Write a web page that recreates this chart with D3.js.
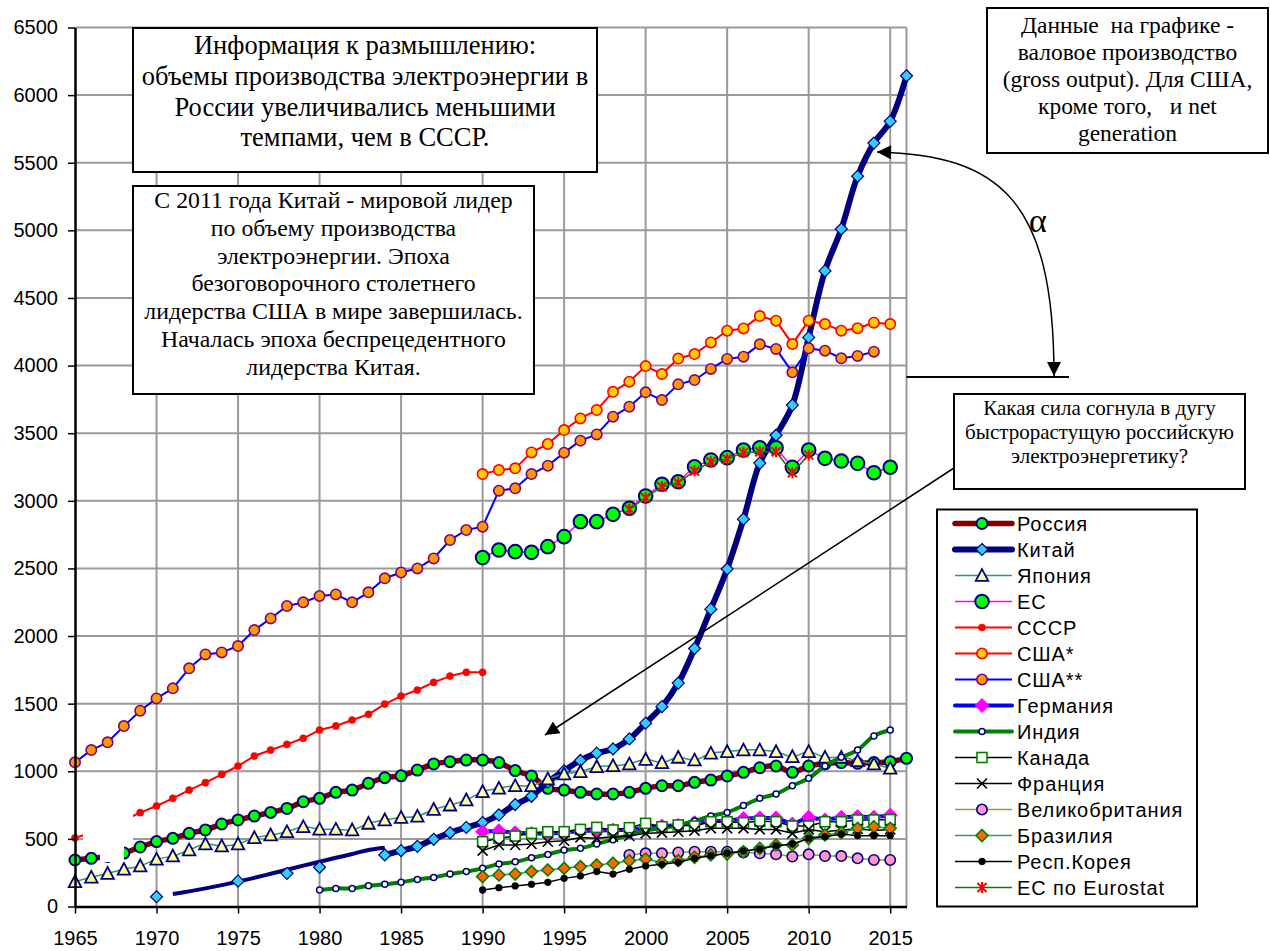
<!DOCTYPE html>
<html><head><meta charset="utf-8">
<script src="https://cdn.jsdelivr.net/npm/d3@7"></script>
<style>body{margin:0;background:#fff}svg{display:block}</style>
</head><body><svg id="c" width="1270" height="951"></svg>
<script>
// ---------------- DATA (TWh) ----------------
const russiaStart = 1965;
const russia = [344,356,370,395,440,480,504,541,566,610,640,669,696,725,775,800,844,861,911,953,966,1009,1054,1071,1083,1083,1064,1005,965,874,861,844,832,832,844,874,893,893,918,935,965,992,1026,1039,992,1039,1054,1064,1059,1064,1071,1096];
const chinaStart = 1970;
const china = [72,null,null,null,null,188,null,null,245,null,290,null,null,null,381,413,445,497,545,585,621,678,754,815,920,1004,1080,1134,1165,1239,1356,1478,1652,1908,2199,2496,2864,3279,3485,3708,4208,4700,5010,5400,5645,5806,6143];
const chinaTrendStart = 1971;
const chinaTrend = [92,112,134,158,184,212,242,272,302,331,360,388,418,435];
const japanStart = 1965;
const japan = [184,216,245,275,300,349,373,418,462,447,462,509,529,553,590,571,571,566,615,640,658,667,718,750,788,849,874,893,893,943,980,997,1034,1041,1054,1088,1064,1103,1083,1133,1145,1157,1157,1145,1108,1145,1103,1103,1078,1054,1022];
const euStart = 1990;
const eu = [2580,2636,2624,2619,2661,2735,2846,2846,2900,2945,3036,3122,3141,3252,3302,3319,3375,3392,3392,3247,3375,3314,3294,3277,3208,3248];
const ussrStart = 1965;
const ussr = [507,545,587,638,694,743,800,861,916,977,1039,1113,1157,1199,1244,1305,1335,1379,1421,1497,1556,1601,1657,1704,1732,1732];
const usGrossStart = 1990;
const usGross = [3198,3227,3240,3358,3420,3523,3609,3671,3806,3881,3996,3937,4052,4085,4171,4258,4275,4366,4332,4159,4332,4307,4258,4276,4317,4307];
const usNetStart = 1965;
const usNet = [1066,1157,1214,1334,1448,1539,1613,1761,1864,1879,1926,2044,2130,2222,2249,2296,2308,2249,2323,2427,2470,2500,2574,2710,2784,2809,3075,3092,3198,3260,3356,3445,3491,3622,3696,3802,3745,3861,3893,3975,4049,4066,4157,4123,3950,4128,4110,4054,4071,4103];
const germanyStart = 1990;
const germany = [553,560,545,540,540,545,560,560,565,565,585,595,600,620,630,635,650,655,655,610,660,640,660,665,660,675];
const indiaStart = 1980;
const india = [122,134,134,154,164,180,200,215,240,258,282,314,330,360,385,417,430,463,494,530,562,580,600,633,669,696,746,800,832,893,948,1039,1103,1157,1261,1305];
const canadaStart = 1990;
const canada = [479,504,521,541,553,553,570,585,566,583,615,590,603,595,627,627,620,632,627,595,595,627,627,640,640,643];
const franceStart = 1990;
const france = [413,455,455,462,479,486,511,504,516,521,541,546,553,561,578,578,578,570,570,541,570,553,565,574,562,570];
const ukStart = 1999;
const uk = [381,393,393,400,405,405,405,400,393,386,369,386,373,373,356,344,344];
const brazilStart = 1990;
const brazil = [221,233,240,258,270,282,295,307,320,339,351,324,339,364,381,388,405,430,455,455,504,529,546,578,590,578];
const koreaStart = 1990;
const korea = [122,139,152,164,179,208,226,258,240,275,300,312,327,356,376,393,410,425,450,462,504,516,536,524,524,524];
const eurostatStart = 1999;
const eurostat = [2937,3023,3104,3134,3220,3289,3309,3356,3363,3363,3208,3338];

const yTicks = [0,500,1000,1500,2000,2500,3000,3500,4000,4500,5000,5500,6000,6500];
const xTicks = [1965,1970,1975,1980,1985,1990,1995,2000,2005,2010,2015];

const legendLabels = ["Россия","Китай","Япония","ЕС","СССР","США*","США**","Германия","Индия","Канада","Франция","Великобритания","Бразилия","Респ.Корея","ЕС по Eurostat"];

const note1 = ["Информация к размышлению:","объемы производства электроэнергии в","России увеличивались меньшими","темпами, чем в СССР."];
const note2 = ["С 2011 года Китай - мировой лидер","по объему производства","электроэнергии. Эпоха","безоговорочного столетнего","лидерства США в мире завершилась.","Началась эпоха беспрецедентного","лидерства Китая."];
const note3 = ["Данные  на графике -","валовое производство","(gross output). Для США,","кроме того,   и net","generation"];
const note4 = ["Какая сила согнула в дугу","быстрорастущую российскую","электроэнергетику?"];
const alphaLabel = "α";

// ---------------- BUILD ----------------
const toPts = (start, arr) => arr.map((v,i)=>({year:start+i, v}));

const series = [
  {name:legendLabels[0], pts:toPts(russiaStart,russia), line:{c:"#800000",w:5.5}, smooth:true,
   m:{type:"circle", r:5.5, fill:"#00ff00", stroke:"#000080", sw:2}},
  {name:legendLabels[1], pts:toPts(chinaStart,china), line:{c:"#000080",w:6}, smooth:true,
   m:{type:"diamond", h:6, fill:"#33ccff", stroke:"#000080", sw:1.2}},
  {name:legendLabels[2], pts:toPts(japanStart,japan), line:{c:"#339966",w:1.5}, smooth:true,
   m:{type:"triangle", s:12.5, fill:"#ffff99", stroke:"#000080", sw:1.8}},
  {name:legendLabels[3], pts:toPts(euStart,eu), line:{c:"#ff00ff",w:1.5}, smooth:false,
   m:{type:"circle", r:6.8, fill:"#00ff00", stroke:"#000080", sw:2}},
  {name:legendLabels[4], pts:toPts(ussrStart,ussr), line:{c:"#ff0000",w:2}, smooth:false,
   m:{type:"circle", r:3.6, fill:"#ff0000", stroke:"#ff0000", sw:0.5}},
  {name:legendLabels[5], pts:toPts(usGrossStart,usGross), line:{c:"#ff0000",w:2}, smooth:false,
   m:{type:"circle", r:5.2, fill:"#ffcc00", stroke:"#ff0000", sw:1.6}},
  {name:legendLabels[6], pts:toPts(usNetStart,usNet), line:{c:"#0000ff",w:2}, smooth:false,
   m:{type:"circle", r:5.2, fill:"#ff9900", stroke:"#800080", sw:1.6}},
  {name:legendLabels[7], pts:toPts(germanyStart,germany), line:{c:"#0000ff",w:4}, smooth:false,
   m:{type:"diamond", h:7, fill:"#ff00ff", stroke:"#ff00ff", sw:1}},
  {name:legendLabels[8], pts:toPts(indiaStart,india), line:{c:"#008000",w:4}, smooth:true,
   m:{type:"circle", r:3, fill:"#ffffff", stroke:"#000080", sw:1.5}},
  {name:legendLabels[9], pts:toPts(canadaStart,canada), line:{c:"#000000",w:1.5}, smooth:false,
   m:{type:"square", s:10, fill:"#ffffff", stroke:"#008000", sw:1.6}},
  {name:legendLabels[10], pts:toPts(franceStart,france), line:{c:"#000000",w:1.5}, smooth:false,
   m:{type:"x", h:5, fill:"none", stroke:"#000000", sw:1.6}},
  {name:legendLabels[11], pts:toPts(ukStart,uk), line:{c:"#999933",w:1.5}, smooth:false,
   m:{type:"circle", r:5.2, fill:"#ff99cc", stroke:"#000080", sw:1.6}},
  {name:legendLabels[12], pts:toPts(brazilStart,brazil), line:{c:"#339966",w:1.5}, smooth:false,
   m:{type:"diamond", h:6, fill:"#ff6600", stroke:"#008000", sw:1.6}},
  {name:legendLabels[13], pts:toPts(koreaStart,korea), line:{c:"#000000",w:1.5}, smooth:false,
   m:{type:"circle", r:3.4, fill:"#000000", stroke:"#000000", sw:0.5}},
  {name:legendLabels[14], pts:toPts(eurostatStart,eurostat), line:{c:"#008000",w:1.5}, smooth:false,
   m:{type:"asterisk", h:4.5, fill:"none", stroke:"#ff0000", sw:2}}
];

const svg = d3.select("#c");
const W = 1270, H = 951;
svg.append("rect").attr("width",W).attr("height",H).attr("fill","#fff");

const x = d3.scaleLinear().domain([1965, 2016]).range([75, 906.5]);
const y = d3.scaleLinear().domain([0, 6500]).range([906.5, 27.5]);

const sans = "'Liberation Sans', Arial, Helvetica, sans-serif";
const serif = "'Liberation Serif', 'Times New Roman', serif";

// grid
const grid = svg.append("g").attr("stroke","#999").attr("stroke-width",2);
yTicks.filter(t=>t>0).forEach(t=>{
  grid.append("line").attr("x1",x(1965)).attr("x2",x(2016)).attr("y1",y(t)).attr("y2",y(t));
});
xTicks.filter(t=>t>1965).forEach(t=>{
  grid.append("line").attr("x1",x(t)).attr("x2",x(t)).attr("y1",y(6500)).attr("y2",y(0));
});
grid.append("line").attr("x1",x(2016)).attr("x2",x(2016)).attr("y1",y(6500)).attr("y2",y(0));

// marker drawing
function drawMarker(g, m){
  if(m.type==="circle"){
    g.append("circle").attr("r",m.r).attr("fill",m.fill).attr("stroke",m.stroke).attr("stroke-width",m.sw);
  } else if(m.type==="diamond"){
    const h=m.h;
    g.append("path").attr("d",`M0,${-h}L${h},0L0,${h}L${-h},0Z`).attr("fill",m.fill).attr("stroke",m.stroke).attr("stroke-width",m.sw);
  } else if(m.type==="triangle"){
    const s=m.s, hh=s*0.866/2;
    g.append("path").attr("d",`M0,${-hh-1}L${s/2},${hh}L${-s/2},${hh}Z`).attr("fill",m.fill).attr("stroke",m.stroke).attr("stroke-width",m.sw).attr("stroke-linejoin","miter");
  } else if(m.type==="square"){
    g.append("rect").attr("x",-m.s/2).attr("y",-m.s/2).attr("width",m.s).attr("height",m.s).attr("fill",m.fill).attr("stroke",m.stroke).attr("stroke-width",m.sw);
  } else if(m.type==="x"){
    const h=m.h;
    g.append("path").attr("d",`M${-h},${-h}L${h},${h}M${-h},${h}L${h},${-h}`).attr("stroke",m.stroke).attr("stroke-width",m.sw).attr("fill","none");
  } else if(m.type==="asterisk"){
    const h=m.h;
    g.append("path").attr("d",`M${-h},${-h}L${h},${h}M${-h},${h}L${h},${-h}M0,${-h-1}L0,${h+1}`).attr("stroke",m.stroke).attr("stroke-width",m.sw).attr("fill","none");
  }
}

// series
const plot = svg.append("g");
series.forEach(s=>{
  const gen = d3.line().defined(d=>d.v!=null).x(d=>x(d.year)).y(d=>y(d.v))
     .curve(s.smooth ? d3.curveCatmullRom.alpha(0.5) : d3.curveLinear);
  plot.append("path").datum(s.pts).attr("d",gen).attr("fill","none")
     .attr("stroke",s.line.c).attr("stroke-width",s.line.w).attr("stroke-linejoin","round").attr("stroke-linecap","round");
  if(s===series[1]){
    // separate trend line for China (no markers)
    const gen2 = d3.line().x(d=>x(d.year)).y(d=>y(d.v)).curve(d3.curveCatmullRom.alpha(0.5));
    plot.append("path").datum(toPts(chinaTrendStart,chinaTrend)).attr("d",gen2).attr("fill","none")
      .attr("stroke","#000080").attr("stroke-width",4).attr("stroke-linecap","butt");
  }
  s.pts.filter(d=>d.v!=null).forEach(d=>{
    const g = plot.append("g").attr("transform",`translate(${x(d.year)},${y(d.v)})`);
    drawMarker(g, s.m);
  });
});

// white occluding shape (empty text frame in original)
svg.append("path").attr("d","M83,812H133V842H124V862H100V842H83Z").attr("fill","#fff");

// axes
const yAxis = svg.append("g").attr("transform",`translate(${x(1965)},0)`)
  .call(d3.axisLeft(y).tickValues(yTicks).tickFormat(d3.format("d")).tickSize(7).tickSizeOuter(0).tickPadding(10));
yAxis.select(".domain").attr("stroke","#000").attr("stroke-width",2.5);
yAxis.selectAll(".tick line").attr("stroke","#000").attr("stroke-width",1.5);
yAxis.selectAll("text").attr("font-family",sans).attr("font-size",20).attr("fill","#000");

const xAxis = svg.append("g").attr("transform",`translate(0,${y(0)})`)
  .call(d3.axisBottom(x).tickValues(xTicks).tickFormat(d3.format("d")).tickSize(7).tickSizeOuter(0).tickPadding(17));
xAxis.select(".domain").attr("stroke","#000").attr("stroke-width",2.5);
xAxis.selectAll(".tick line").attr("stroke","#000").attr("stroke-width",1.5);
xAxis.selectAll("text").attr("font-family",sans).attr("font-size",20).attr("fill","#000");

// annotation boxes
function box(x0,y0,x1,y1,lines,fs,firstBase,lh){
  svg.append("rect").attr("x",x0).attr("y",y0).attr("width",x1-x0).attr("height",y1-y0)
    .attr("fill","#fff").attr("stroke","#000").attr("stroke-width",2);
  const t = svg.append("text").attr("font-family",serif).attr("font-size",fs).attr("text-anchor","middle")
    .attr("fill","#000").style("white-space","pre");
  lines.forEach((l,i)=>{
    t.append("tspan").attr("x",(x0+x1)/2).attr("y",firstBase+i*lh).text(l);
  });
}
box(133,28,597,172,note1,26.5,54,30.8);
box(133,186,534,394,note2,23.8,208,27.8);
box(987,8,1268,153,note3,23.5,33,27);
box(954,394,1245,489,note4,21,415,24);

// arrows
const defs = svg.append("defs");
defs.append("marker").attr("id","ah").attr("viewBox","0 0 10 10").attr("refX",10).attr("refY",5)
  .attr("markerWidth",17).attr("markerHeight",14).attr("markerUnits","userSpaceOnUse")
  .attr("orient","auto-start-reverse")
  .append("path").attr("d","M0,0L10,5L0,10Z").attr("fill","#000");

svg.append("line").attr("x1",954).attr("y1",468).attr("x2",545).attr("y2",735)
  .attr("stroke","#000").attr("stroke-width",1.5).attr("marker-end","url(#ah)");
svg.append("line").attr("x1",906.5).attr("y1",377).attr("x2",1069).attr("y2",377)
  .attr("stroke","#000").attr("stroke-width",2);
svg.append("path").attr("d","M877,152C1000,155 1054,200 1054,376")
  .attr("fill","none").attr("stroke","#000").attr("stroke-width",1.5)
  .attr("marker-start","url(#ah)").attr("marker-end","url(#ah)");
svg.append("text").attr("x",1038).attr("y",232).attr("text-anchor","middle")
  .attr("font-family",serif).attr("font-size",34).attr("fill","#000").text(alphaLabel);

// legend
const lg = svg.append("g");
lg.append("rect").attr("x",937).attr("y",509.5).attr("width",260).attr("height",397)
  .attr("fill","#fff").attr("stroke","#000").attr("stroke-width",2);
series.forEach((s,i)=>{
  const cy = 523.5 + i*26;
  lg.append("line").attr("x1",955).attr("x2",1012).attr("y1",cy).attr("y2",cy)
    .attr("stroke",s.line.c).attr("stroke-width",s.line.w).attr("stroke-linecap", s.line.w>3?"round":"butt");
  const g = lg.append("g").attr("transform",`translate(982,${cy})`);
  drawMarker(g, s.m);
  lg.append("text").attr("x",1017).attr("y",cy+7.5).attr("font-family",sans).attr("font-size",20)
    .attr("letter-spacing",0.9).attr("fill","#000").text(s.name);
});
</script></body></html>
